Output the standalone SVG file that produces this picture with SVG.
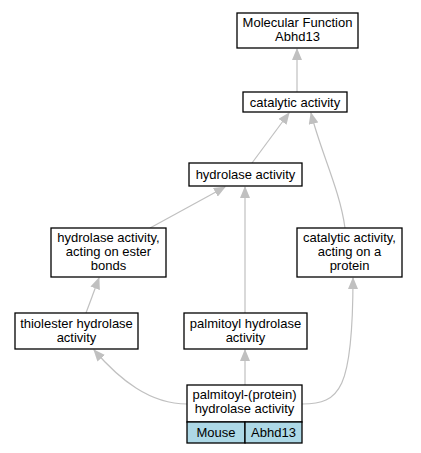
<svg xmlns="http://www.w3.org/2000/svg" width="421" height="453" viewBox="0 0 421 453">
<defs>
<marker id="ah" markerWidth="12" markerHeight="10" refX="11" refY="5" orient="auto" markerUnits="userSpaceOnUse">
<path d="M0,0 L12,5 L0,10 Z" fill="#c0c0c0"/>
</marker>
<style>
.n rect{fill:#fff;stroke:#000;stroke-width:1.3}
.n text,.c text{font-family:"Liberation Sans",Arial,sans-serif;font-size:13px;text-anchor:middle;fill:#000}
.c rect{fill:#add8e6;stroke:#000;stroke-width:1.3}
.e path{fill:none;stroke:#c0c0c0;stroke-width:1.2;marker-end:url(#ah)}
</style>
</defs>
<rect width="421" height="453" fill="#fff"/>
<g class="e" id="edges">
<path d="M297,92 L297,49"/>
<path d="M252,163 L289,113"/>
<path d="M345,228 C340,190 320,150 311,113"/>
<path d="M150,228 L225,187"/>
<path d="M245,313 L245,187"/>
<path d="M86,313 L99,278"/>
<path d="M187,404 C150,404 120,380 94,350"/>
<path d="M245,385 L245,350"/>
<path d="M302,404 C340,404 353,390 353,278"/>
</g>
<g class="n" id="n_mf"><rect x="237" y="13" width="121" height="35"/><text x="297.5" y="27">Molecular Function</text><text x="297.5" y="41">Abhd13</text></g>
<g class="n" id="n_cat"><rect x="243" y="92" width="104" height="20"/><text x="295" y="106.5">catalytic activity</text></g>
<g class="n" id="n_hyd"><rect x="189" y="163" width="113" height="23"/><text x="245.5" y="179">hydrolase activity</text></g>
<g class="n" id="n_ester"><rect x="51" y="228" width="115" height="49"/><text x="108.5" y="242">hydrolase activity,</text><text x="108.5" y="256">acting on ester</text><text x="108.5" y="270">bonds</text></g>
<g class="n" id="n_cap"><rect x="297" y="228" width="105" height="49"/><text x="349.5" y="242">catalytic activity,</text><text x="349.5" y="256">acting on a</text><text x="349.5" y="270">protein</text></g>
<g class="n" id="n_thio"><rect x="15" y="313" width="123" height="36"/><text x="76.5" y="328">thiolester hydrolase</text><text x="76.5" y="342">activity</text></g>
<g class="n" id="n_palm"><rect x="184" y="313" width="123" height="36"/><text x="245.5" y="328">palmitoyl hydrolase</text><text x="245.5" y="342">activity</text></g>
<g class="n" id="n_ppt"><rect x="187" y="385" width="115" height="37"/><text x="244.5" y="399">palmitoyl-(protein)</text><text x="244.5" y="413">hydrolase activity</text>
<g class="c"><rect x="187" y="422" width="58" height="21"/><text x="216" y="437">Mouse</text><rect x="245" y="422" width="57" height="21"/><text x="273.5" y="437">Abhd13</text></g></g>
</svg>
